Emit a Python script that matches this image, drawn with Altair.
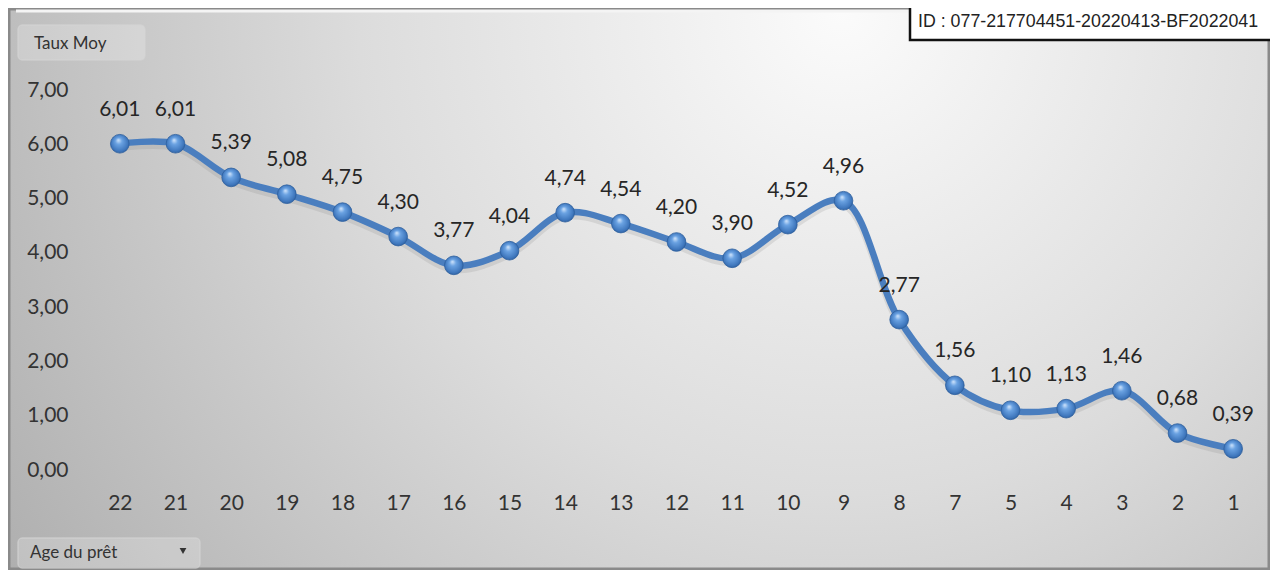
import altair as alt
import pandas as pd

# ---- data ----
ages = ["22", "21", "20", "19", "18", "17", "16", "15", "14", "13", "12",
        "11", "10", "9", "8", "7", "5", "4", "3", "2", "1"]
taux = [6.01, 6.01, 5.39, 5.08, 4.75, 4.30, 3.77, 4.04, 4.74, 4.54, 4.20,
        3.90, 4.52, 4.96, 2.77, 1.56, 1.10, 1.13, 1.46, 0.68, 0.39]
y_ticks = [0, 1, 2, 3, 4, 5, 6, 7]
y_title = "Taux Moy"
x_title = "Age du prêt"
doc_id = "ID : 077-217704451-20220413-BF2022041"

df = pd.DataFrame({
    "age": ages,
    "taux": taux,
    "lab": [f"{v:.2f}".replace(".", ",") for v in taux],
})
one = pd.DataFrame({"k": [0]})

W, H = 1169, 380
PL, PT, PR, PB = 84, 82, 9, 100
FONT = "Lato"

# ---- decorations ----
bg = alt.Chart(one).mark_rect(
    color=alt.Gradient(
        gradient="radial",
        stops=[alt.GradientStop(color="#fbfbfb", offset=0),
               alt.GradientStop(color="#dcdcdc", offset=0.45),
               alt.GradientStop(color="#a9a9a9", offset=1)],
        x1=0.66, y1=0.28, r1=0, x2=0.66, y2=0.28, r2=0.85),
).encode(x=alt.value(-PL), x2=alt.value(W + PR), y=alt.value(-PT), y2=alt.value(H + PB))

frame = alt.Chart(one).mark_rect(
    fill="transparent", stroke="#8a8a8a", strokeWidth=3
).encode(x=alt.value(-PL + 1), x2=alt.value(W + PR - 1), y=alt.value(-PT + 1), y2=alt.value(H + PB - 1))

top_hl = alt.Chart(one).mark_rule(color="#f4f4f4", strokeWidth=3).encode(
    x=alt.value(-PL + 8), x2=alt.value(W + PR - 4), y=alt.value(-PT + 3))

btn_top = alt.Chart(one).mark_rect(
    fill="#ffffff", fillOpacity=0.22, stroke="#d4d4d4", strokeWidth=1, cornerRadius=4
).encode(x=alt.value(-74), x2=alt.value(53), y=alt.value(-65), y2=alt.value(-30))
btn_top_txt = alt.Chart(one).mark_text(
    text=y_title, align="left", baseline="middle", font=FONT, fontSize=17, color="#333333"
).encode(x=alt.value(-58), y=alt.value(-46))

btn_bot = alt.Chart(one).mark_rect(
    fill="#ffffff", fillOpacity=0.22, stroke="#d4d4d4", strokeWidth=1, cornerRadius=4
).encode(x=alt.value(-74), x2=alt.value(108), y=alt.value(448), y2=alt.value(478))
btn_bot_txt = alt.Chart(one).mark_text(
    text=x_title, align="left", baseline="middle", font=FONT, fontSize=17, color="#333333"
).encode(x=alt.value(-62), y=alt.value(463))
btn_arrow = alt.Chart(one).mark_point(
    shape="triangle-down", filled=True, color="#333333", size=45, opacity=1
).encode(x=alt.value(91), y=alt.value(461))

id_box = alt.Chart(one).mark_rect(
    fill="#ffffff", stroke="#111111", strokeWidth=2.5
).encode(x=alt.value(818), x2=alt.value(W + PR + 10), y=alt.value(-PT - 5), y2=alt.value(-50))
id_txt = alt.Chart(one).mark_text(
    text=doc_id, align="left", baseline="middle", font="Liberation Sans", fontSize=17.8, color="#222222"
).encode(x=alt.value(826), y=alt.value(-68))

# ---- data layers ----
xenc = alt.X("age:N", sort=None, scale=alt.Scale(type="point", padding=0.5),
             axis=alt.Axis(title=None, labelAngle=0, labelPadding=22, ticks=False, domain=False,
                           grid=False, labelFont=FONT, labelFontSize=21, labelColor="#333333",
                           zindex=2))
yenc = alt.Y("taux:Q", scale=alt.Scale(domain=[0, 7], nice=False),
             axis=alt.Axis(title=None, values=y_ticks, labelPadding=24, ticks=False, domain=False,
                           grid=False, labelFont=FONT, labelFontSize=21, labelColor="#333333",
                           labelExpr="replace(format(datum.value, '.2f'), '.', ',')", zindex=2))

base = alt.Chart(df)

shadow = base.mark_line(interpolate="catmull-rom", strokeWidth=7, color="#808080",
                        opacity=0.18).encode(x=xenc, y=yenc, yOffset=alt.value(4))
line = base.mark_line(interpolate="catmull-rom", strokeWidth=6.5, color="#4a7ebf").encode(x=xenc, y=yenc)

pts = base.mark_point(
    filled=True, size=350, opacity=1, stroke="#2d5f9e", strokeWidth=0.8,
    fill=alt.Gradient(
        gradient="radial",
        stops=[alt.GradientStop(color="#d4e7fd", offset=0),
               alt.GradientStop(color="#6aa2e2", offset=0.3),
               alt.GradientStop(color="#3f77bd", offset=0.75),
               alt.GradientStop(color="#24508a", offset=1)],
        x1=0.42, y1=0.3, r1=0, x2=0.5, y2=0.5, r2=0.6),
).encode(x=xenc, y=yenc)

labels = base.mark_text(
    dy=-34, font=FONT, fontSize=21, color="#262626", baseline="middle", align="center"
).encode(x=xenc, y=yenc, text="lab:N")

chart = alt.layer(
    bg, frame, top_hl, btn_top, btn_top_txt, btn_bot, btn_bot_txt, btn_arrow,
    shadow, line, pts, labels, id_box, id_txt
).properties(
    width=W, height=H,
    padding={"left": PL, "top": PT, "right": PR, "bottom": PB},
    autosize=alt.AutoSizeParams(type="none"),
).configure_view(stroke=None).configure(background="#c4c4c4")

chart.save("out.html", embed_options={"renderer": "svg", "actions": False})
